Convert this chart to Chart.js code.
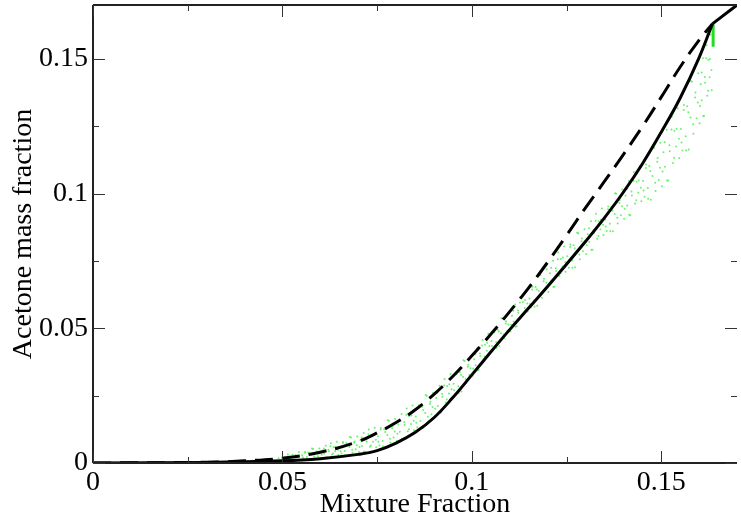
<!DOCTYPE html>
<html>
<head>
<meta charset="utf-8">
<script src="https://cdn.jsdelivr.net/npm/chart.js@4.4.1/dist/chart.umd.min.js"></script>
<style>
  html, body { margin: 0; padding: 0; background: #fff; }
  #wrap { width: 741px; height: 522px; }
</style>
</head>
<body>
<div id="wrap"><canvas id="chart"></canvas></div>
<script>
// axis ticks
const xTickVals = [0, 0.05, 0.1, 0.15];
const xTickLabels = ['0', '0.05', '0.1', '0.15'];
const yTickVals = [0, 0.05, 0.1, 0.15];
const yTickLabels = ['0', '0.05', '0.1', '0.15'];
const xMinor = [0.025, 0.075, 0.125];
const yMinor = [0.025, 0.075, 0.125];

// solid curve
const solidX = [0, 0.03, 0.05, 0.06, 0.07, 0.075, 0.08, 0.085, 0.09, 0.095, 0.1, 0.105, 0.11, 0.115, 0.12, 0.125, 0.13, 0.135, 0.14, 0.145, 0.15, 0.155, 0.16, 0.1635];
const solidY = [0, 0.0002, 0.0008, 0.0016, 0.0032, 0.0046, 0.0074, 0.0113, 0.0168, 0.0243, 0.0327, 0.0412, 0.0495, 0.0575, 0.0655, 0.0738, 0.0822, 0.0910, 0.1005, 0.1110, 0.1228, 0.1355, 0.1505, 0.1630];

// straight part after the kink
const tailX = [0.1635, 0.17];
const tailY = [0.1630, 0.1700];

// dashed curve
const dashedX = [0, 0.03, 0.04, 0.05, 0.06, 0.07, 0.075, 0.08, 0.085, 0.09, 0.095, 0.1, 0.105, 0.11, 0.115, 0.12, 0.125, 0.13, 0.135, 0.14, 0.145, 0.15, 0.155, 0.16, 0.1635];
const dashedY = [0, 0.0003, 0.0008, 0.0018, 0.0040, 0.0080, 0.0112, 0.0150, 0.0197, 0.0255, 0.0322, 0.0398, 0.0478, 0.0562, 0.0650, 0.0745, 0.0845, 0.0947, 0.1045, 0.1145, 0.1248, 0.1358, 0.1470, 0.1570, 0.1630];

// green scatter cloud
const cloudX = [
  0.031, 0.033, 0.036, 0.038, 0.040, 0.042, 0.044, 0.046, 0.047, 0.049,
  0.0502, 0.0506, 0.0510, 0.05145, 0.05185, 0.05225, 0.0527, 0.0531, 0.0535, 0.05395, 0.05435, 0.05475,
  0.0552, 0.0556, 0.0560, 0.05645, 0.05685, 0.05725, 0.0577, 0.0581, 0.0585, 0.05895, 0.05935, 0.05975,
  0.0602, 0.0606, 0.0610, 0.06145, 0.06185, 0.06225, 0.0627, 0.0631, 0.0635, 0.06395, 0.06435, 0.06475,
  0.0652, 0.0656, 0.0660, 0.06645, 0.06685, 0.06725, 0.0677, 0.0681, 0.0685, 0.06895, 0.06935, 0.06975,
  0.0702, 0.0706, 0.0710, 0.07145, 0.07185, 0.07225, 0.0727, 0.0731, 0.0735, 0.07395, 0.07435, 0.07475,
  0.0752, 0.0756, 0.0760, 0.07645, 0.07685, 0.07725, 0.0777, 0.0781, 0.0785, 0.07895, 0.07935, 0.07975,
  0.0802, 0.0806, 0.0810, 0.08145, 0.08185, 0.08225, 0.0827, 0.0831, 0.0835, 0.08395, 0.08435, 0.08475,
  0.0852, 0.0856, 0.0860, 0.08645, 0.08685, 0.08725, 0.0877, 0.0881, 0.0885, 0.08895, 0.08935, 0.08975,
  0.0902, 0.0906, 0.0910, 0.09145, 0.09185, 0.09225, 0.0927, 0.0931, 0.0935, 0.09395, 0.09435, 0.09475,
  0.0952, 0.0956, 0.0960, 0.09645, 0.09685, 0.09725, 0.0977, 0.0981, 0.0985, 0.09895, 0.09935, 0.09975,
  0.1002, 0.1006, 0.1010, 0.10145, 0.10185, 0.10225, 0.1027, 0.1031, 0.1035, 0.10395, 0.10435, 0.10475,
  0.1052, 0.1056, 0.1060, 0.10645, 0.10685, 0.10725, 0.1077, 0.1081, 0.1085, 0.10895, 0.10935, 0.10975,
  0.1102, 0.1106, 0.1110, 0.11145, 0.11185, 0.11225, 0.1127, 0.1131, 0.1135, 0.11395, 0.11435, 0.11475,
  0.1152, 0.1156, 0.1160, 0.11645, 0.11685, 0.11725, 0.1177, 0.1181, 0.1185, 0.11895, 0.11935, 0.11975,
  0.1202, 0.1206, 0.1210, 0.12145, 0.12185, 0.12225, 0.1227, 0.1231, 0.1235, 0.12395, 0.12435, 0.12475,
  0.1252, 0.1256, 0.1260, 0.12645, 0.12685, 0.12725, 0.1277, 0.1281, 0.1285, 0.12895, 0.12935, 0.12975,
  0.1302, 0.1306, 0.1310, 0.13145, 0.13185, 0.13225, 0.1327, 0.1331, 0.1335, 0.13395, 0.13435, 0.13475,
  0.1352, 0.1356, 0.1360, 0.13645, 0.13685, 0.13725, 0.1377, 0.1381, 0.1385, 0.13895, 0.13935, 0.13975,
  0.1402, 0.1406, 0.1410, 0.14145, 0.14185, 0.14225, 0.1427, 0.1431, 0.1435, 0.14395, 0.14435, 0.14475,
  0.1452, 0.1456, 0.1460, 0.14645, 0.14685, 0.14725, 0.1477, 0.1481, 0.1485, 0.14895, 0.14935, 0.14975,
  0.1502, 0.1506, 0.1510, 0.15145, 0.15185, 0.15225, 0.1527, 0.1531, 0.1535, 0.15395, 0.15435, 0.15475,
  0.1552, 0.1556, 0.1560, 0.15645, 0.15685, 0.15725, 0.1577, 0.1581, 0.1585, 0.15895, 0.15935, 0.15975,
  0.16014, 0.16042, 0.1607, 0.16102, 0.1613, 0.16158, 0.16189, 0.16217, 0.16245, 0.16277, 0.16305, 0.16333
];
const cloudY = [
  0.0002, 0.0004, 0.0001, 0.0006, 0.0003, 0.0009, 0.0002, 0.0012, 0.0006, 0.0018,
  0.0006, 0.0021, 0.0014, 0.0032, 0.0007, 0.0020, 0.0031, 0.0013, 0.0030, 0.0021, 0.0041, 0.0013,
  0.0029, 0.0016, 0.0041, 0.0022, 0.0039, 0.0012, 0.0030, 0.0052, 0.0017, 0.0040, 0.0025, 0.0054,
  0.0019, 0.0046, 0.0034, 0.0064, 0.0020, 0.0044, 0.0062, 0.0032, 0.0059, 0.0044, 0.0079, 0.0031,
  0.0057, 0.0035, 0.0078, 0.0045, 0.0074, 0.0028, 0.0059, 0.0095, 0.0038, 0.0075, 0.0051, 0.0098,
  0.0041, 0.0084, 0.0063, 0.0111, 0.0041, 0.0079, 0.0107, 0.0060, 0.0102, 0.0079, 0.0131, 0.0058,
  0.0099, 0.0065, 0.0130, 0.0082, 0.0125, 0.0058, 0.0104, 0.0157, 0.0076, 0.0129, 0.0095, 0.0163,
  0.0082, 0.0143, 0.0116, 0.0182, 0.0089, 0.0141, 0.0179, 0.0118, 0.0174, 0.0145, 0.0213, 0.0122,
  0.0173, 0.0133, 0.0214, 0.0156, 0.0209, 0.0130, 0.0186, 0.0249, 0.0155, 0.0219, 0.0181, 0.0260,
  0.0170, 0.0241, 0.0212, 0.0287, 0.0187, 0.0246, 0.0288, 0.0225, 0.0286, 0.0258, 0.0330, 0.0240,
  0.0294, 0.0256, 0.0338, 0.0285, 0.0337, 0.0265, 0.0320, 0.0379, 0.0297, 0.0357, 0.0327, 0.0397,
  0.0324, 0.0385, 0.0363, 0.0428, 0.0346, 0.0397, 0.0436, 0.0385, 0.0439, 0.0417, 0.0480, 0.0406,
  0.0453, 0.0423, 0.0493, 0.0448, 0.0495, 0.0433, 0.0482, 0.0537, 0.0463, 0.0518, 0.0491, 0.0557,
  0.0488, 0.0547, 0.0525, 0.0588, 0.0508, 0.0558, 0.0596, 0.0545, 0.0598, 0.0576, 0.0640, 0.0562,
  0.0611, 0.0577, 0.0653, 0.0604, 0.0653, 0.0584, 0.0638, 0.0698, 0.0613, 0.0675, 0.0642, 0.0719,
  0.0635, 0.0704, 0.0677, 0.0751, 0.0654, 0.0713, 0.0756, 0.0694, 0.0757, 0.0729, 0.0804, 0.0710,
  0.0767, 0.0725, 0.0811, 0.0752, 0.0808, 0.0727, 0.0786, 0.0853, 0.0756, 0.0823, 0.0786, 0.0868,
  0.0776, 0.0849, 0.0820, 0.0897, 0.0792, 0.0854, 0.0899, 0.0832, 0.0897, 0.0867, 0.0945, 0.0846,
  0.0904, 0.0861, 0.0952, 0.0888, 0.0949, 0.0860, 0.0924, 0.0999, 0.0889, 0.0965, 0.0920, 0.1015,
  0.0907, 0.0992, 0.0956, 0.1047, 0.0920, 0.0993, 0.1048, 0.0963, 0.1044, 0.1003, 0.1102, 0.0972,
  0.1047, 0.0988, 0.1108, 0.1021, 0.1102, 0.0977, 0.1065, 0.1169, 0.1010, 0.1118, 0.1050, 0.1189,
  0.1027, 0.1153, 0.1100, 0.1237, 0.1049, 0.1157, 0.1238, 0.1114, 0.1233, 0.1175, 0.1317, 0.1132,
  0.1240, 0.1160, 0.1329, 0.1213, 0.1324, 0.1164, 0.1282, 0.1415, 0.1222, 0.1357, 0.1280, 0.1447,
  0.1261, 0.1406, 0.1346, 0.1502, 0.1288, 0.1411, 0.1502, 0.1363, 0.1496, 0.1432, 0.1590, 0.1384
];

// second, sparser pass over the same cloud
const cloudX2 = [
  0.05535, 0.05595, 0.05655, 0.05715, 0.0578, 0.0584, 0.05905, 0.05965,
  0.06035, 0.06095, 0.06155, 0.06215, 0.0628, 0.0634, 0.06405, 0.06465,
  0.06535, 0.06595, 0.06655, 0.06715, 0.0678, 0.0684, 0.06905, 0.06965,
  0.07035, 0.07095, 0.07155, 0.07215, 0.0728, 0.0734, 0.07405, 0.07465,
  0.07535, 0.07595, 0.07655, 0.07715, 0.0778, 0.0784, 0.07905, 0.07965,
  0.08035, 0.08095, 0.08155, 0.08215, 0.0828, 0.0834, 0.08405, 0.08465,
  0.08535, 0.08595, 0.08655, 0.08715, 0.0878, 0.0884, 0.08905, 0.08965,
  0.09035, 0.09095, 0.09155, 0.09215, 0.0928, 0.0934, 0.09405, 0.09465,
  0.09535, 0.09595, 0.09655, 0.09715, 0.0978, 0.0984, 0.09905, 0.09965,
  0.10035, 0.10095, 0.10155, 0.10215, 0.1028, 0.1034, 0.10405, 0.10465,
  0.10535, 0.10595, 0.10655, 0.10715, 0.1078, 0.1084, 0.10905, 0.10965,
  0.11035, 0.11095, 0.11155, 0.11215, 0.1128, 0.1134, 0.11405, 0.11465,
  0.11535, 0.11595, 0.11655, 0.11715, 0.1178, 0.1184, 0.11905, 0.11965,
  0.12035, 0.12095, 0.12155, 0.12215, 0.1228, 0.1234, 0.12405, 0.12465,
  0.12535, 0.12595, 0.12655, 0.12715, 0.1278, 0.1284, 0.12905, 0.12965,
  0.13035, 0.13095, 0.13155, 0.13215, 0.1328, 0.1334, 0.13405, 0.13465,
  0.13535, 0.13595, 0.13655, 0.13715, 0.1378, 0.1384, 0.13905, 0.13965,
  0.14035, 0.14095, 0.14155, 0.14215, 0.1428, 0.1434, 0.14405, 0.14465,
  0.14535, 0.14595, 0.14655, 0.14715, 0.1478, 0.1484, 0.14905, 0.14965,
  0.15035, 0.15095, 0.15155, 0.15215, 0.1528, 0.1534, 0.15405, 0.15465,
  0.15535, 0.15595, 0.15655, 0.15715, 0.1578, 0.1584, 0.15905, 0.15965,
  0.16025, 0.16067, 0.16109, 0.1615, 0.16196, 0.16238, 0.16284, 0.16326
];
const cloudY2 = [
  0.0021, 0.0038, 0.0013, 0.0035, 0.0054, 0.0024, 0.0043, 0.0035,
  0.0031, 0.0054, 0.0020, 0.0049, 0.0073, 0.0035, 0.0060, 0.0049,
  0.0044, 0.0074, 0.0030, 0.0067, 0.0097, 0.0049, 0.0080, 0.0066,
  0.0059, 0.0096, 0.0043, 0.0087, 0.0124, 0.0065, 0.0103, 0.0086,
  0.0079, 0.0124, 0.0061, 0.0115, 0.0159, 0.0090, 0.0136, 0.0117,
  0.0109, 0.0161, 0.0090, 0.0151, 0.0202, 0.0125, 0.0176, 0.0157,
  0.0149, 0.0205, 0.0130, 0.0197, 0.0252, 0.0172, 0.0227, 0.0208,
  0.0201, 0.0261, 0.0186, 0.0256, 0.0312, 0.0236, 0.0292, 0.0274,
  0.0270, 0.0329, 0.0260, 0.0327, 0.0381, 0.0312, 0.0365, 0.0352,
  0.0351, 0.0404, 0.0344, 0.0406, 0.0457, 0.0395, 0.0446, 0.0434,
  0.0434, 0.0485, 0.0428, 0.0488, 0.0537, 0.0476, 0.0526, 0.0514,
  0.0513, 0.0565, 0.0506, 0.0566, 0.0616, 0.0554, 0.0605, 0.0592,
  0.0590, 0.0644, 0.0580, 0.0644, 0.0699, 0.0629, 0.0684, 0.0669,
  0.0665, 0.0725, 0.0653, 0.0723, 0.0781, 0.0704, 0.0763, 0.0746,
  0.0741, 0.0802, 0.0725, 0.0797, 0.0855, 0.0774, 0.0833, 0.0814,
  0.0808, 0.0871, 0.0792, 0.0865, 0.0925, 0.0843, 0.0903, 0.0884,
  0.0878, 0.0942, 0.0860, 0.0936, 0.1001, 0.0910, 0.0975, 0.0953,
  0.0944, 0.1017, 0.0921, 0.1008, 0.1080, 0.0975, 0.1049, 0.1022,
  0.1011, 0.1095, 0.0981, 0.1084, 0.1173, 0.1040, 0.1132, 0.1096,
  0.1082, 0.1191, 0.1049, 0.1179, 0.1285, 0.1133, 0.1241, 0.1204,
  0.1190, 0.1310, 0.1160, 0.1302, 0.1418, 0.1257, 0.1375, 0.1338,
  0.1325, 0.1449, 0.1288, 0.1433, 0.1551, 0.1382, 0.1500, 0.1459
];

// bright green streak just under the kink
const streakX = [0.1637, 0.1637];
const streakY = [0.1545, 0.1628];

const cloud = cloudX.concat(cloudX2).map((x, i) => ({ x: x, y: cloudY.concat(cloudY2)[i] }));
const solid = solidX.map((x, i) => ({ x: x, y: solidY[i] }));
const tail = tailX.map((x, i) => ({ x: x, y: tailY[i] }));
const dashed = dashedX.map((x, i) => ({ x: x, y: dashedY[i] }));
const streak = streakX.map((x, i) => ({ x: x, y: streakY[i] }));

const FONT = 'Liberation Serif';

// frame and inward ticks like the original plot
const framePlugin = {
  id: 'frame',
  afterDraw(chart) {
    const { ctx, chartArea: a, scales: { x, y } } = chart;
    ctx.save();
    ctx.strokeStyle = '#222';
    ctx.lineWidth = 2;
    ctx.beginPath();
    ctx.moveTo(a.left, a.top); ctx.lineTo(a.right, a.top);
    ctx.moveTo(a.left, a.top); ctx.lineTo(a.left, a.bottom);
    ctx.moveTo(a.left, a.bottom); ctx.lineTo(a.right, a.bottom);
    ctx.stroke();
    ctx.lineWidth = 1;
    ctx.strokeStyle = '#333';
    const tickX = (v, len) => {
      const px = Math.round(x.getPixelForValue(v)) + 0.5;
      ctx.moveTo(px, a.bottom); ctx.lineTo(px, a.bottom - len);
      ctx.moveTo(px, a.top); ctx.lineTo(px, a.top + len);
    };
    const tickY = (v, len) => {
      const py = Math.round(y.getPixelForValue(v)) + 0.5;
      ctx.moveTo(a.left, py); ctx.lineTo(a.left + len, py);
      ctx.moveTo(a.right, py); ctx.lineTo(a.right - len, py);
    };
    ctx.beginPath();
    xTickVals.forEach(v => tickX(v, 12));
    xMinor.forEach(v => tickX(v, 6));
    yTickVals.forEach(v => tickY(v, 12));
    yMinor.forEach(v => tickY(v, 6));
    ctx.stroke();
    ctx.restore();
  }
};

new Chart(document.getElementById('chart'), {
  type: 'scatter',
  data: {
    datasets: [
      {
        data: solid, showLine: true, borderColor: '#000', borderWidth: 3,
        pointRadius: 0, tension: 0.4, order: 1
      },
      {
        data: tail, showLine: true, borderColor: '#000', borderWidth: 3,
        pointRadius: 0, order: 1
      },
      {
        data: dashed, showLine: true, borderColor: '#000', borderWidth: 3, borderDash: [18, 9],
        pointRadius: 0, tension: 0.4, order: 2
      },
      {
        data: streak, showLine: true, borderColor: '#22dd22', borderWidth: 3,
        pointRadius: 0, order: 3
      },
      {
        data: cloud, showLine: false, pointRadius: 1, borderWidth: 0,
        backgroundColor: 'rgba(80, 240, 80, 0.85)', order: 4
      }
    ]
  },
  options: {
    responsive: true,
    maintainAspectRatio: false,
    animation: false,
    events: [],
    layout: { padding: { top: 5, right: 0, left: 0, bottom: 0 } },
    plugins: { legend: { display: false }, tooltip: { enabled: false } },
    scales: {
      x: {
        type: 'linear', min: 0, max: 0.17,
        grid: { display: false, drawTicks: false },
        border: { display: false },
        afterBuildTicks: s => { s.ticks = xTickVals.map(v => ({ value: v })); },
        afterFit: s => { s.height = 59; s.paddingLeft = 0; s.paddingRight = 0; },
        ticks: {
          color: '#000', padding: 3, maxRotation: 0,
          font: { family: FONT, size: 28 },
          callback: (v, i) => xTickLabels[i]
        },
        title: {
          display: true, text: 'Mixture Fraction', color: '#000',
          font: { family: FONT, size: 28, lineHeight: 1 },
          padding: { top: 0, bottom: 3 }
        }
      },
      y: {
        type: 'linear', min: 0, max: 0.17,
        grid: { display: false, drawTicks: false },
        border: { display: false },
        afterBuildTicks: s => { s.ticks = yTickVals.map(v => ({ value: v })); },
        afterFit: s => { s.width = 93; s.paddingTop = 0; s.paddingBottom = 0; },
        ticks: {
          color: '#000', padding: 5,
          font: { family: FONT, size: 28 },
          callback: (v, i) => yTickLabels[i]
        },
        title: {
          display: true, text: 'Acetone mass fraction', color: '#000',
          font: { family: FONT, size: 28, lineHeight: 1 },
          padding: { top: 10, bottom: 0 }
        }
      }
    }
  },
  plugins: [framePlugin]
});
</script>
</body>
</html>
